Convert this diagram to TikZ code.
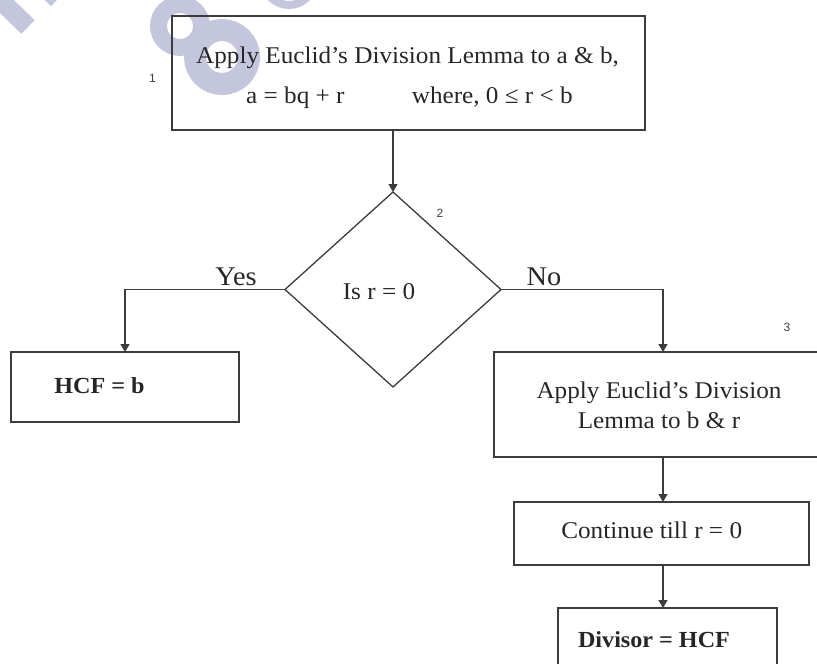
\documentclass[tikz,border=0pt]{standalone}
\usepackage{fontspec}
\setmainfont[FakeStretch=1.05]{Liberation Serif}
\newfontfamily\numfont{Liberation Sans}
\usetikzlibrary{arrows.meta,shapes.geometric}
\definecolor{wm}{RGB}{196,198,222}
\definecolor{ln}{RGB}{60,60,60}
\begin{document}
\begin{tikzpicture}[x=1pt,y=-1pt,
  box/.style={draw=ln,line width=1.3pt,rectangle,inner sep=0pt,outer sep=0pt},
  dec/.style={draw=ln,line width=1.3pt,diamond,inner sep=0pt,outer sep=0pt},
  txt/.style={inner sep=0pt,anchor=base,font=\fontsize{24}{29}\selectfont,text=black!85},
  btxt/.style={txt,font=\fontsize{23}{28}\selectfont\bfseries},
  lbl/.style={inner sep=0pt,anchor=base,font=\fontsize{27}{30}\selectfont,text=black!85},
  num/.style={inner sep=0pt,font=\numfont\fontsize{12}{13}\selectfont,text=black!75},
  arr/.style={draw=ln,line width=1.3pt,-{Triangle[length=8pt,width=9pt]}},
  wmk/.style={draw=wm,line cap=butt}]
\useasboundingbox (0,0) rectangle (817,664);
% watermark
\draw[wmk,line width=19pt] (-6,-6) -- (28,27);
\draw[wmk,line width=14pt] (44,-10) -- (56,1);
\draw[wmk,line width=22pt] (222,57) circle[radius=27];
\draw[wmk,line width=17pt] (180,26) circle[radius=21.5];
\draw[wmk,line width=8pt] (289,-20) circle[radius=25];
% boxes
\node[box,minimum width=473pt,minimum height=114pt] (b1) at (408.5,73) {};
\node[dec,minimum width=216pt,minimum height=195pt] (d) at (393,289.5) {};
\node[box,minimum width=228pt,minimum height=70pt] (hcf) at (125,387) {};
\node[box,minimum width=338pt,minimum height=105pt] (b3) at (663,404.5) {};
\node[box,minimum width=295pt,minimum height=63pt] (b4) at (661.5,533.5) {};
\node[box,minimum width=219pt,minimum height=92pt] (b5) at (667.5,654) {};
% texts
\node[txt] (t1a) at (407.5,63) {Apply Euclid’s Division Lemma to a \& b,};
\node[txt,anchor=base west] (t1b) at (246,103) {a = bq + r};
\node[txt,anchor=base east] (t1c) at (573,103) {where, 0 ≤ r < b};
\node[txt] (td) at (379,299) {Is r = 0};
\node[btxt] (th) at (99.5,393) {HCF = b};
\node[txt] (t3a) at (659,398) {Apply Euclid’s Division};
\node[txt] (t3b) at (659,428) {Lemma to b \& r};
\node[txt] (t4) at (651.7,538) {Continue till r = 0};
\node[btxt] (t5) at (654,647) {Divisor = HCF};
\node[lbl] (yes) at (236,285) {Yes};
\node[lbl] (no) at (544,285) {No};
\node[num] (n1) at (152.5,78) {1};
\node[num] (n2) at (440,213) {2};
\node[num] (n3) at (787,327) {3};
% connectors
\draw[arr] (b1.south -| d.north) -- (d.north);
\draw[arr] (d.west) -| (hcf.north);
\draw[arr] (d.east) -| (b3.north);
\draw[arr] (b3.south) -- (b3.south |- b4.north);
\draw[arr] (b3.south |- b4.south) -- (b3.south |- b5.north);
\end{tikzpicture}
\end{document}
